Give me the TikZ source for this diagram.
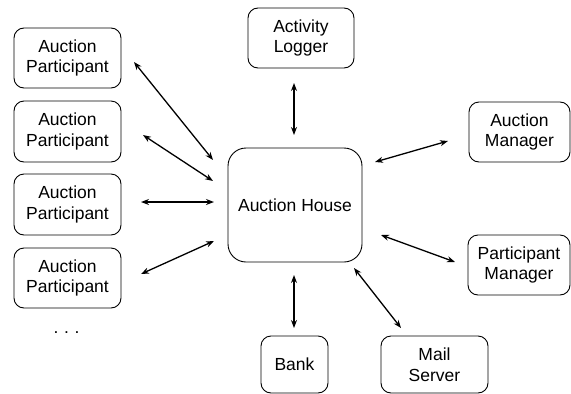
\documentclass[tikz,border=0pt]{standalone}
\usepackage{fontspec}
\setmainfont{Liberation Sans}
\usetikzlibrary{arrows.meta}
\begin{document}
\begin{tikzpicture}[x=1pt,y=-1pt,
  box/.style={draw, line width=0.9pt, rounded corners=10pt, align=center,
    inner sep=0pt, font=\fontsize{17.5pt}{20.5pt}\selectfont},
  link/.style={line width=1.3pt, {Stealth[length=8pt,width=6pt]}-{Stealth[length=8pt,width=6pt]}}]
\useasboundingbox (0,0) rectangle (571,394);
\node[box, minimum width=107pt, minimum height=60pt] (ap1) at (67.5,58) {Auction\\Participant};
\node[box, minimum width=107pt, minimum height=61pt] (ap2) at (67.5,131.5) {Auction\\Participant};
\node[box, minimum width=107pt, minimum height=61pt] (ap3) at (67.5,204.5) {Auction\\Participant};
\node[box, minimum width=107pt, minimum height=60pt] (ap4) at (67.5,278) {Auction\\Participant};
\node[font=\fontsize{17.5pt}{20.5pt}\selectfont, inner sep=0pt, anchor=base] (dots) at (66.5,333) {.\kern5.6pt.\kern5.6pt.};
\node[box, minimum width=106pt, minimum height=60pt] (log) at (301,38) {Activity\\Logger};
\node[box, minimum width=101pt, minimum height=60pt] (am) at (519.5,132) {Auction\\Manager};
\node[box, rounded corners=18pt, minimum width=134pt, minimum height=114pt] (house) at (295,205) {Auction House};
\node[box, minimum width=102pt, minimum height=60pt] (pm) at (519,265) {Participant\\Manager};
\node[box, minimum width=67pt, minimum height=57pt] (bank) at (294.5,364.5) {Bank};
\node[box, minimum width=107pt, minimum height=57pt] (mail) at (434.5,364.5) {Mail\\Server};
% connector end points
\coordinate (a1s) at (134,62);  \coordinate (a1e) at (213,160);
\coordinate (a2s) at (143,135); \coordinate (a2e) at (213,181);
\coordinate (a3s) at (141,202); \coordinate (a3e) at (214,202);
\coordinate (a4s) at (141,274); \coordinate (a4e) at (214,241);
\coordinate (ls) at (294,83);   \coordinate (le) at (294,135);
\coordinate (ams) at (375,162); \coordinate (ame) at (448,141);
\coordinate (pms) at (381,235); \coordinate (pme) at (455,262);
\coordinate (bs) at (294,275);  \coordinate (be) at (294,328);
\coordinate (ms) at (354,268);  \coordinate (me) at (401,328);
\draw[link] (a1s) -- (a1e);
\draw[link] (a2s) -- (a2e);
\draw[link] (a3s) -- (a3e);
\draw[link] (a4s) -- (a4e);
\draw[link] (ls) -- (le);
\draw[link] (ams) -- (ame);
\draw[link] (pms) -- (pme);
\draw[link] (bs) -- (be);
\draw[link] (ms) -- (me);
\end{tikzpicture}
\end{document}
